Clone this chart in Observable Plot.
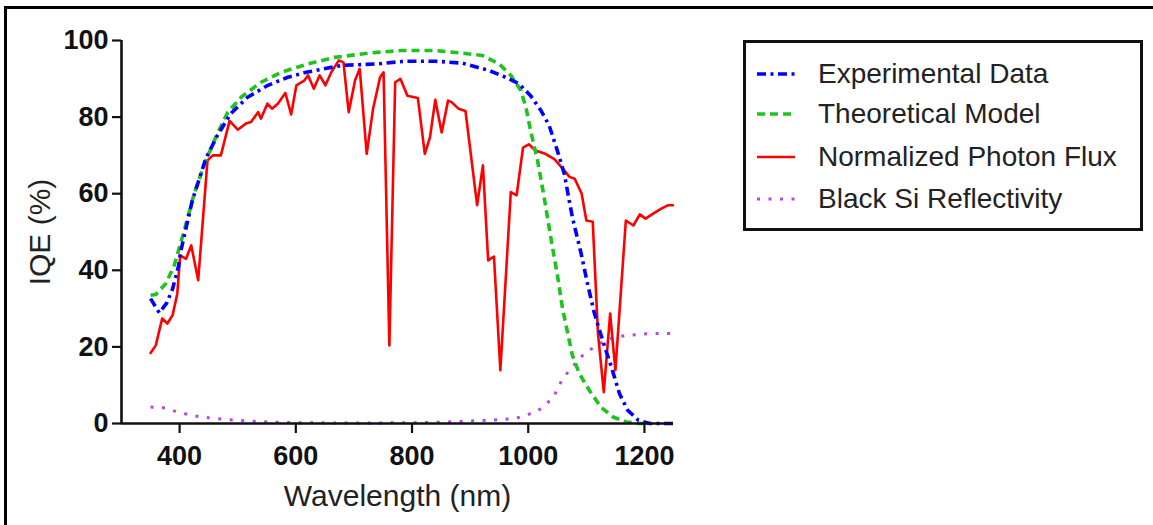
<!DOCTYPE html>
<html><head><meta charset="utf-8">
<script src="https://cdn.jsdelivr.net/npm/d3@7"></script>
<script src="https://cdn.jsdelivr.net/npm/@observablehq/plot@0.6"></script>
<style>
body{margin:0;background:#fff;}
#wrap{position:relative;width:1153px;height:525px;overflow:hidden;background:#fff;font-family:"Liberation Sans",Arial,sans-serif;}
#frameL{position:absolute;left:4px;top:6px;width:3px;height:530px;background:#000;}
#frameT{position:absolute;left:4px;top:6px;width:1160px;height:2.5px;background:#000;}
#legend{position:absolute;left:743px;top:40px;width:394px;height:185px;border:3px solid #111;background:#fff;}
.item{position:absolute;left:10px;height:30px;display:flex;align-items:center;font-size:28px;color:#222;white-space:nowrap;}
.item svg{margin-right:22px;}
</style></head><body>
<div id="wrap"><div id="frameL"></div><div id="frameT"></div></div>
<script>
// Series names
const seriesNames = ["Experimental Data", "Theoretical Model", "Normalized Photon Flux", "Black Si Reflectivity"];
const seriesColors = ["#0000ff", "#1fc31f", "#ff0000", "#b447e6"];

// Experimental Data (IQE %)
const expWl  = [350,365,378,388,398,402,422,445,465,488,517,552,586,618,679,742,788,840,886,932,961,984,1004,1022,1036,1050,1062,1076,1091,1102,1114,1128,1143,1157,1171,1189,1209,1250];
const expIqe = [32.6,28.9,31.5,35.2,41,45,58.3,69.1,75.2,80.9,85.2,88.3,90.4,91.7,93.5,93.9,94.6,94.6,94.1,92.2,90.4,88.7,85.6,81.7,77.8,71.3,65.2,53.8,44.4,36.5,28.7,21.7,14.8,7.8,3.5,0.9,0,0];

// Theoretical Model (IQE %)
const thWl  = [350,359,376,390,408,425,445,465,483,506,540,575,621,667,725,782,840,886,921,950,970,987,996,1004,1016,1028,1040,1051,1059,1076,1088,1105,1125,1146,1169,1190,1200];
const thIqe = [33.5,33.7,36.5,40.9,50.4,60,68.7,75.7,81.3,85.2,89.1,91.7,93.9,95.6,96.7,97.4,97.4,96.7,96.1,93.9,90.9,87,82.6,76.5,68.7,58.5,47.5,38,30,17.8,13,8.7,4.3,1.7,0.4,0,0];

// Normalized Photon Flux (%)
const fluxWl  = [350,359,370,379,388,396,401,411,420,432,448,457,471,486,500,514,523,535,540,551,559,569,582,592,601,615,621,631,641,651,661,674,682,691,702,710,722,733,745,751,761,771,780,792,810,822,831,840,851,862,868,880,892,912,922,931,941,952,970,980,991,1001,1012,1028,1045,1062,1071,1080,1092,1100,1111,1120,1130,1141,1150,1168,1181,1192,1202,1215,1229,1241,1249];
const fluxVal = [18.4,20.4,27.4,26.1,28.3,33.9,43.9,43,46.5,37.4,68.7,70,70,79,76.7,78.3,78.7,81.3,79.6,83.5,82.2,83.5,86.3,80.7,88.3,89.6,90.9,87.4,90.9,88.3,91.7,94.8,94.3,81.3,89.6,92.6,70.4,82.2,90.4,91.7,20.4,89.1,90,85.6,85,70.4,74.8,84.5,76,84.3,83.9,82.2,81.6,57,67.4,42.6,43.6,13.9,60.4,59.6,72,72.9,71.3,70.5,69,66.1,64.4,63.9,60,53,52.7,23.5,8.2,28.7,13.9,53,51.7,54.6,53.5,54.8,56.1,57,57];

// Black Si Reflectivity (%)
const reflWl  = [350,370,390,408,425,450,483,523,570,615,700,800,863,938,978,996,1013,1030,1045,1059,1076,1094,1117,1140,1169,1209,1249];
const reflVal = [4.3,4.2,3.3,2.6,2.0,1.5,1.0,0.6,0.3,0.2,0.1,0.2,0.4,0.9,1.3,2.2,3,4.8,7.4,11.7,14.8,17.8,20.4,22.2,23,23.5,23.5];

// Axis ticks
const xTicks = [400, 600, 800, 1000, 1200];
const yTicks = [0, 20, 40, 60, 80, 100];
const xTitle = "Wavelength (nm)";
const yTitle = "IQE (%)";

const styles = [
  {strokeWidth: 3.6, strokeDasharray: "9,4.5,3,4.5", strokeLinecap: "butt"},
  {strokeWidth: 3.6, strokeDasharray: "8,5", strokeLinecap: "butt"},
  {strokeWidth: 2.6, strokeDasharray: null, strokeLinecap: "round"},
  {strokeWidth: 3, strokeDasharray: "3,8.5", strokeLinecap: "butt"}
];

const mk = (w, v) => w.map((x, i) => ({x, y: v[i]}));
const series = [mk(expWl, expIqe), mk(thWl, thIqe), mk(fluxWl, fluxVal), mk(reflWl, reflVal)];
const drawOrder = [3, 2, 1, 0];

const font = "Liberation Sans, Arial, sans-serif";
const chart = Plot.plot({
  width: 1153, height: 525,
  marginLeft: 121, marginRight: 480, marginTop: 40, marginBottom: 102,
  style: {fontFamily: font, background: "transparent", overflow: "visible", color: "#111"},
  x: {domain: [300, 1250], label: null},
  y: {domain: [0, 100], label: null},
  marks: [
    ...drawOrder.map(k => Plot.line(series[k], {x: "x", y: "y", stroke: seriesColors[k], strokeLinejoin: "round", ...styles[k]})),
    Plot.ruleX([300], {stroke: "#111", strokeWidth: 2.6}),
    Plot.ruleY([0], {stroke: "#111", strokeWidth: 2.6}),
    Plot.axisX({ticks: xTicks, tickFormat: d => String(d), tickSize: 10, tickPadding: 12, fontSize: 27, fontWeight: "bold", strokeWidth: 2.2, label: null}),
    Plot.axisY({ticks: yTicks, tickFormat: d => String(d), tickSize: 9, tickPadding: 4, fontSize: 27, fontWeight: "bold", strokeWidth: 2.2, label: null}),
    Plot.text([xTitle], {text: d => d, frameAnchor: "bottom", lineAnchor: "middle", textAnchor: "middle", dy: 73, fontSize: 30, fill: "#222"}),
    Plot.text([yTitle], {text: d => d, frameAnchor: "left", lineAnchor: "middle", textAnchor: "middle", dx: -81, rotate: -90, fontSize: 30, fill: "#222"})
  ]
});
const wrap = document.getElementById("wrap");
chart.style.position = "absolute"; chart.style.left = "0px"; chart.style.top = "0px";
wrap.insertBefore(chart, wrap.firstChild);

// Legend
const legend = document.createElement("div");
legend.id = "legend";
const tops = [16, 56, 99, 141];
seriesNames.forEach((name, k) => {
  const it = document.createElement("div");
  it.className = "item";
  it.style.top = tops[k] + "px";
  const s = styles[k];
  it.innerHTML = `<svg width="40" height="10"><line x1="1" y1="5" x2="39" y2="5" stroke="${seriesColors[k]}" stroke-width="${s.strokeWidth}" ${s.strokeDasharray ? `stroke-dasharray="${s.strokeDasharray}"` : ""} stroke-linecap="butt"/></svg><span>${name}</span>`;
  legend.appendChild(it);
});
wrap.appendChild(legend);
</script>
</body></html>
